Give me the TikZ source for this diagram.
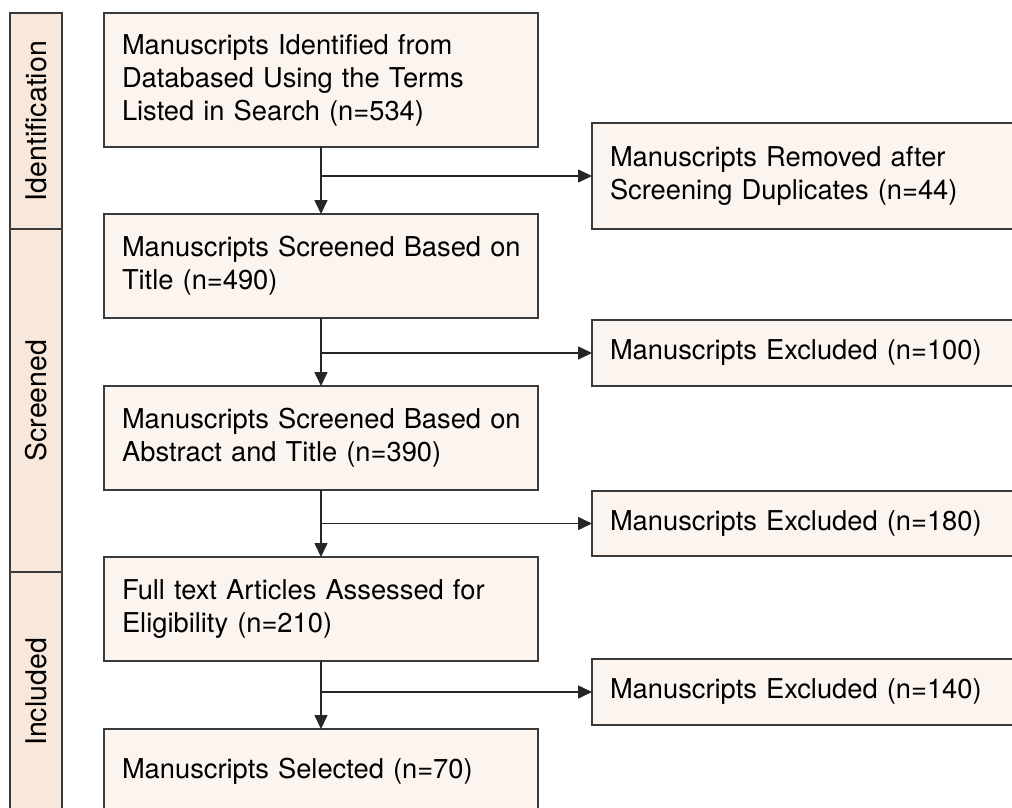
\documentclass[tikz,border=0pt]{standalone}
\usepackage{fontspec}
\setmainfont{TeX Gyre Heros}
\usetikzlibrary{arrows.meta,calc}
\definecolor{labfill}{RGB}{248,231,219}
\definecolor{boxfill}{RGB}{251,244,239}
\definecolor{edge}{RGB}{58,58,58}
\tikzset{
  txtfont/.style={font=\fontsize{27.3}{33}\selectfont},
  box/.style={draw=edge, line width=1.7pt, fill=boxfill, anchor=north west,
    outer sep=0pt, inner xsep=18pt, inner ysep=0pt, text width=398pt,
    align=left, txtfont, text=black},
  rbox/.style={box, text width=420pt},
  phase/.style={draw=edge, line width=1.7pt, fill=labfill, minimum width=52pt,
    anchor=north west, outer sep=0pt, inner sep=0pt,
    font=\fontsize{28.5}{33}\selectfont, text=black},
  arr/.style={line width=1.6pt, draw=black!85,
    -{Triangle[length=14pt,width=13pt]}},
}
\begin{document}
\begin{tikzpicture}[x=1pt,y=-1pt]
\useasboundingbox (0,0) rectangle (1012,808);
\clip (0,0) rectangle (1012,808);
\fill[white] (0,0) rectangle (1012,808);

% phase labels
\node[phase, minimum height=216pt] (ph1) at (10,13) {\rotatebox{90}{Identification}};
\node[phase, minimum height=343pt] (ph2) at (10,229) {\rotatebox{90}{Screened}};
\node[phase, minimum height=240pt] (ph3) at (10,572) {\rotatebox{90}{Included}};

% main column
\node[box, minimum height=134pt] (b1) at (104,13)
  {\mbox{Manuscripts Identified from}\\\mbox{Databased Using the Terms}\\\mbox{Listed in Search (n=534)}};
\node[box, minimum height=104pt] (b2) at (104,214)
  {\mbox{Manuscripts Screened Based on}\\\mbox{Title (n=490)}};
\node[box, minimum height=104pt] (b3) at (104,386)
  {\mbox{Manuscripts Screened Based on}\\\mbox{Abstract and Title (n=390)}};
\node[box, minimum height=104pt] (b4) at (104,557)
  {\mbox{Full text Articles Assessed for}\\\mbox{Eligibility (n=210)}};
\node[box, minimum height=84pt] (b5) at (104,729)
  {\mbox{Manuscripts Selected (n=70)}};

% exclusion column
\node[rbox, minimum height=106pt] (r1) at (592,123)
  {\mbox{Manuscripts Removed after}\\\mbox{Screening Duplicates (n=44)}};
\node[rbox, minimum height=66pt] (r2) at (592,320)
  {\mbox{Manuscripts Excluded (n=100)}};
\node[rbox, minimum height=65pt] (r3) at (592,491)
  {\mbox{Manuscripts Excluded (n=180)}};
\node[rbox, minimum height=66pt] (r4) at (592,659)
  {\mbox{Manuscripts Excluded (n=140)}};

% connectors
\draw[arr] (b1.south) -- (b2.north);
\draw[arr] (b1.south |- r1.west) -- (r1.west);
\draw[arr] (b2.south) -- (b3.north);
\draw[arr] (b2.south |- r2.west) -- (r2.west);
\draw[arr] (b3.south) -- (b4.north);
\draw[arr] (b3.south |- r3.west) -- (r3.west);
\draw[arr] (b4.south) -- (b5.north);
\draw[arr] (b4.south |- r4.west) -- (r4.west);
\end{tikzpicture}
\end{document}
